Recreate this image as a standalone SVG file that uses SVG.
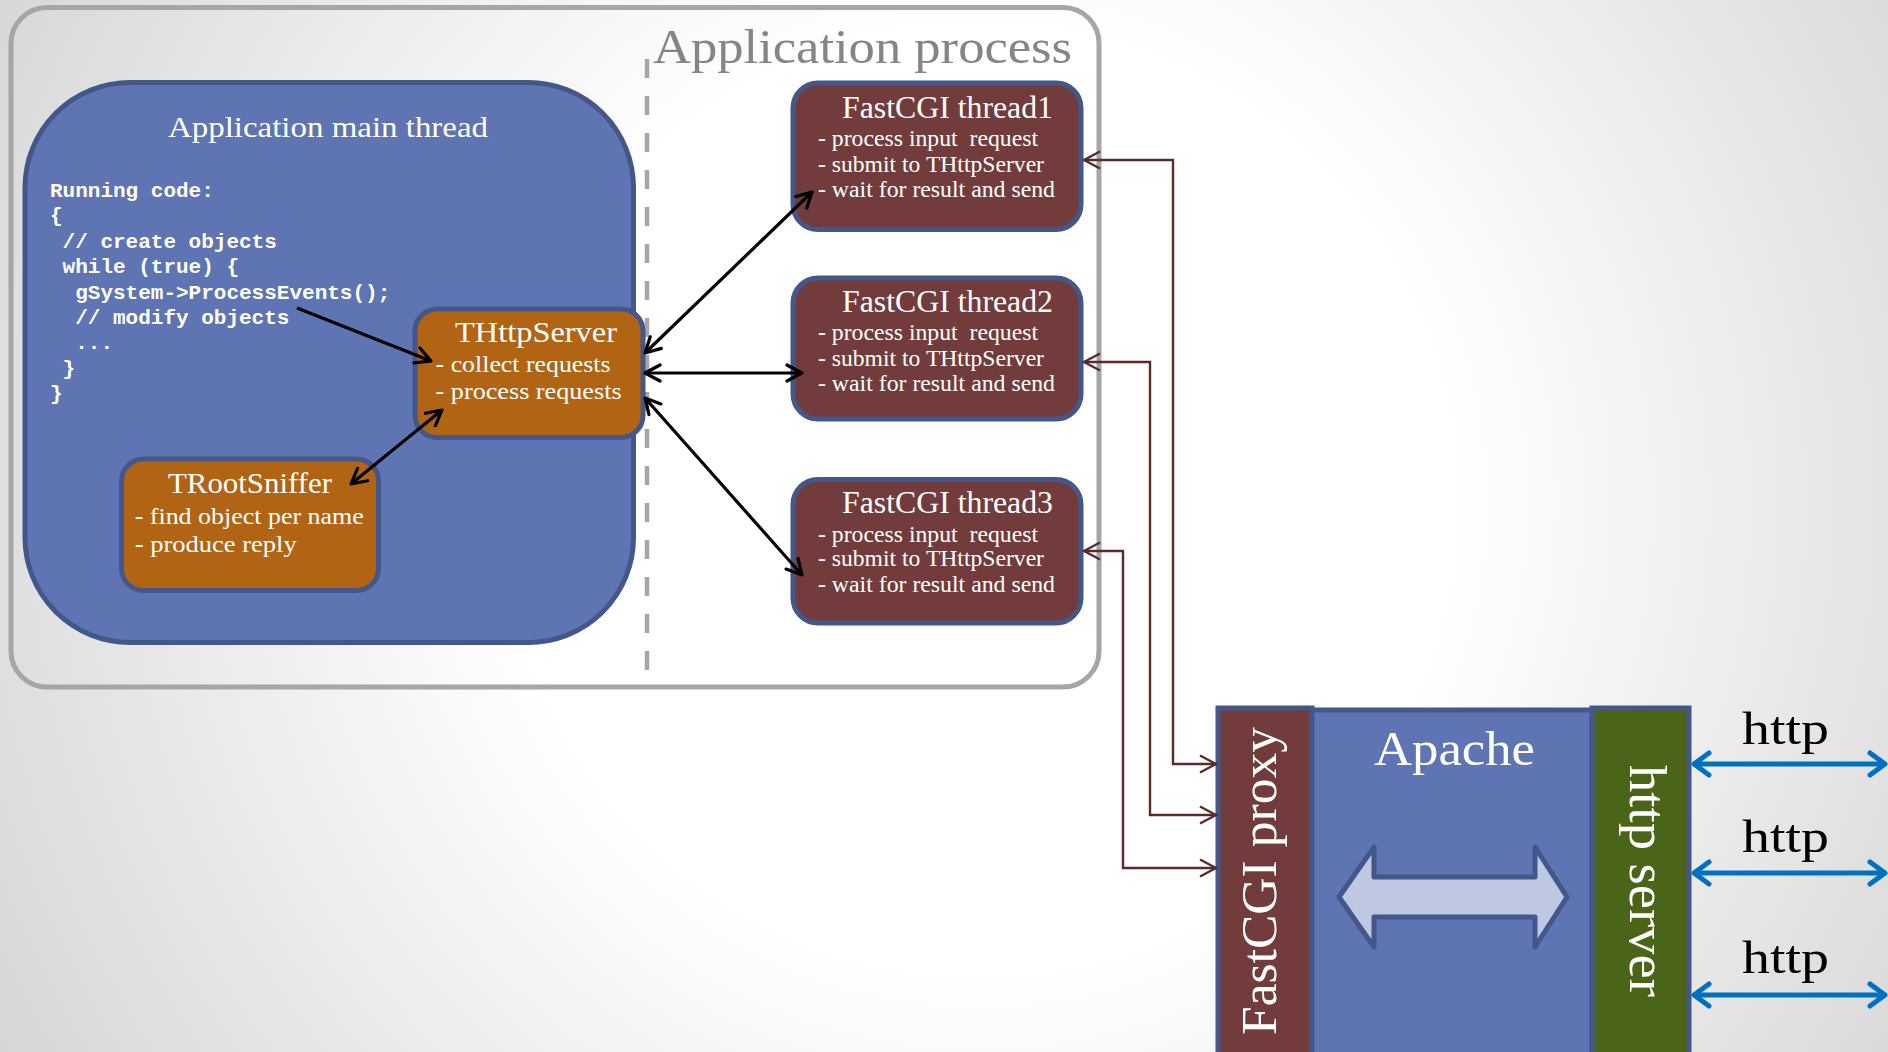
<svg xmlns="http://www.w3.org/2000/svg" width="1888" height="1052" viewBox="0 0 1888 1052">
<defs>
<radialGradient id="bg" gradientUnits="userSpaceOnUse" cx="980" cy="500" r="1120">
<stop offset="0" stop-color="#ffffff"/>
<stop offset="0.42" stop-color="#ffffff"/>
<stop offset="1" stop-color="#d6d6d6"/>
</radialGradient>
<marker id="mb" viewBox="0 0 20 20" refX="18" refY="10" markerWidth="20" markerHeight="20" markerUnits="userSpaceOnUse" orient="auto-start-reverse">
<path d="M3,2 L18,10 L3,18" fill="none" stroke="#000" stroke-width="3.2" stroke-linecap="round" stroke-linejoin="round"/>
</marker>
<marker id="mr" viewBox="0 0 20 20" refX="18" refY="10" markerWidth="20" markerHeight="20" markerUnits="userSpaceOnUse" orient="auto-start-reverse">
<path d="M2,1.5 L18,10 L2,18.5" fill="none" stroke="#5a2b2b" stroke-width="2.4" stroke-linejoin="miter"/>
</marker>
<marker id="mw" viewBox="0 0 24 28" refX="20" refY="14" markerWidth="24" markerHeight="28" markerUnits="userSpaceOnUse" orient="auto-start-reverse">
<path d="M5,3 L20,14 L5,25" fill="none" stroke="#0070c0" stroke-width="5" stroke-linecap="round" stroke-linejoin="round"/>
</marker>
</defs>
<style>
.serif{font-family:"Liberation Serif","DejaVu Serif",serif;fill:#ffffff}
.code{font-family:"Liberation Mono","DejaVu Sans Mono",monospace;font-weight:bold;font-size:21px;fill:#ffffff}
.blue{fill:#5f75b3;stroke:#44578a;stroke-width:5}
.orange{fill:#b26415;stroke:#44578a;stroke-width:5}
.brown{fill:#733c3c;stroke:#44578a;stroke-width:5}
.green{fill:#4b6518;stroke:#44578a;stroke-width:5}
.title{font-size:31px;text-anchor:middle}
.item{font-size:23px}
.blk{fill:none;stroke:#000;stroke-width:3.2;marker-start:url(#mb);marker-end:url(#mb)}
.rd{fill:none;stroke:#5a2b2b;stroke-width:2.4;marker-start:url(#mr);marker-end:url(#mr)}
.bl{fill:none;stroke:#0070c0;stroke-width:5;marker-start:url(#mw);marker-end:url(#mw)}
.http{font-family:"Liberation Serif","DejaVu Serif",serif;font-size:47px;fill:#000;text-anchor:middle}
</style>
<rect x="0" y="0" width="1888" height="1052" fill="url(#bg)"/>

<g id="application-process">
<rect x="11" y="7.5" width="1088" height="679.5" rx="36" fill="none" stroke="#a6a6a6" stroke-width="5"/>
<line x1="647" y1="59" x2="647" y2="670" stroke="#a6a6a6" stroke-width="4.5" stroke-dasharray="19 18"/>
<text x="653" y="63" font-family="Liberation Serif, DejaVu Serif, serif" font-size="49" fill="#858585" textLength="419" lengthAdjust="spacingAndGlyphs">Application process</text>
</g>

<g id="main-thread">
<rect class="blue" x="25" y="82.5" width="608.5" height="560" rx="105"/>
<text class="serif" x="328" y="137" font-size="29" text-anchor="middle" textLength="320" lengthAdjust="spacingAndGlyphs">Application main thread</text>
<text class="code" x="50" y="197">Running code:</text>
<text class="code" x="50" y="222.4">{</text>
<text class="code" x="62.6" y="247.8">// create objects</text>
<text class="code" x="62.6" y="273.2">while (true) {</text>
<text class="code" x="75.2" y="298.6">gSystem-&gt;ProcessEvents();</text>
<text class="code" x="75.2" y="324">// modify objects</text>
<text class="code" x="75.2" y="349.4">...</text>
<text class="code" x="62.6" y="374.8">}</text>
<text class="code" x="50" y="400.2">}</text>
</g>

<g id="thttpserver">
<rect class="orange" x="415" y="309" width="228" height="128.5" rx="22"/>
<text class="serif" x="536" y="342" font-size="29" text-anchor="middle" textLength="162" lengthAdjust="spacingAndGlyphs">THttpServer</text>
<text class="serif item" x="435.6" y="372" textLength="175" lengthAdjust="spacingAndGlyphs">- collect requests</text>
<text class="serif item" x="435.6" y="399" textLength="186" lengthAdjust="spacingAndGlyphs">- process requests</text>
</g>

<g id="trootsniffer">
<rect class="orange" x="121.5" y="459" width="257" height="131.5" rx="22"/>
<text class="serif" x="250" y="493" font-size="29" text-anchor="middle" textLength="164" lengthAdjust="spacingAndGlyphs">TRootSniffer</text>
<text class="serif item" x="134.7" y="524" textLength="229" lengthAdjust="spacingAndGlyphs">- find object per name</text>
<text class="serif item" x="134.7" y="552" textLength="162" lengthAdjust="spacingAndGlyphs">- produce reply</text>
</g>

<g id="fastcgi-thread1">
<rect class="brown" x="793" y="83" width="288" height="146.5" rx="25"/>
<text class="serif title" x="947.5" y="118" textLength="211" lengthAdjust="spacingAndGlyphs">FastCGI thread1</text>
<text class="serif item" x="818" y="146" xml:space="preserve" textLength="220" lengthAdjust="spacingAndGlyphs">- process input  request</text>
<text class="serif item" x="818" y="172" textLength="226" lengthAdjust="spacingAndGlyphs">- submit to THttpServer</text>
<text class="serif item" x="818" y="197" textLength="237" lengthAdjust="spacingAndGlyphs">- wait for result and send</text>
</g>

<g id="fastcgi-thread2">
<rect class="brown" x="793" y="278" width="288" height="141" rx="25"/>
<text class="serif title" x="947.5" y="312" textLength="211" lengthAdjust="spacingAndGlyphs">FastCGI thread2</text>
<text class="serif item" x="818" y="340" xml:space="preserve" textLength="220" lengthAdjust="spacingAndGlyphs">- process input  request</text>
<text class="serif item" x="818" y="366" textLength="226" lengthAdjust="spacingAndGlyphs">- submit to THttpServer</text>
<text class="serif item" x="818" y="391" textLength="237" lengthAdjust="spacingAndGlyphs">- wait for result and send</text>
</g>

<g id="fastcgi-thread3">
<rect class="brown" x="793" y="479.5" width="288" height="143.5" rx="25"/>
<text class="serif title" x="947.5" y="513" textLength="211" lengthAdjust="spacingAndGlyphs">FastCGI thread3</text>
<text class="serif item" x="818" y="542" xml:space="preserve" textLength="220" lengthAdjust="spacingAndGlyphs">- process input  request</text>
<text class="serif item" x="818" y="566" textLength="226" lengthAdjust="spacingAndGlyphs">- submit to THttpServer</text>
<text class="serif item" x="818" y="592" textLength="237" lengthAdjust="spacingAndGlyphs">- wait for result and send</text>
</g>

<g id="apache">
<rect class="brown" x="1218" y="708" width="94" height="360"/>
<rect class="blue" x="1312" y="710" width="280" height="360"/>
<rect class="green" x="1592" y="708" width="97" height="360"/>
<text class="serif" transform="translate(1276,881) rotate(-90)" x="0" y="0" font-size="50" text-anchor="middle" textLength="308" lengthAdjust="spacingAndGlyphs">FastCGI proxy</text>
<text class="serif" x="1454.5" y="765" font-size="48" text-anchor="middle" textLength="161" lengthAdjust="spacingAndGlyphs">Apache</text>
<text class="serif" transform="translate(1630,881) rotate(90)" x="0" y="0" font-size="52" text-anchor="middle" textLength="232" lengthAdjust="spacingAndGlyphs">http server</text>
<path d="M1339,897 L1374,847 L1374,877 L1535,877 L1535,847 L1567,897 L1535,947 L1535,917 L1374,917 L1374,947 Z" fill="#bec9e1" stroke="#44578a" stroke-width="5" stroke-linejoin="round"/>
</g>

<g id="http-labels">
<text class="http" x="1785.5" y="744" textLength="87" lengthAdjust="spacingAndGlyphs">http</text>
<text class="http" x="1785.5" y="852" textLength="87" lengthAdjust="spacingAndGlyphs">http</text>
<text class="http" x="1785.5" y="973" textLength="87" lengthAdjust="spacingAndGlyphs">http</text>
</g>

<g id="connectors">
<path d="M297,308 L431,361" fill="none" stroke="#000" stroke-width="3.2" marker-end="url(#mb)"/>
<path class="blk" d="M351,484 L442,410"/>
<path class="blk" d="M645,353 L812,192"/>
<path class="blk" d="M645,373 L802,373"/>
<path class="blk" d="M645,398 L802,575"/>
<path class="rd" d="M1084,160 H1173 V764 H1216"/>
<path class="rd" d="M1084,362 H1150 V815 H1216"/>
<path class="rd" d="M1084,551 H1123 V868 H1216"/>
<path class="bl" d="M1694,764 H1885"/>
<path class="bl" d="M1694,873 H1885"/>
<path class="bl" d="M1694,995 H1885"/>
</g>
</svg>
